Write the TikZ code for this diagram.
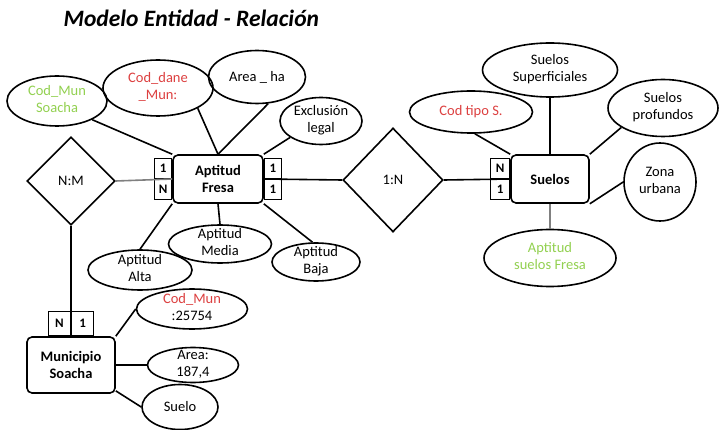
\documentclass[tikz,border=0pt]{standalone}
\usepackage{fontspec}
\setmainfont{Carlito}
\usetikzlibrary{shapes,positioning,calc}
\definecolor{keyred}{RGB}{220,64,64}
\definecolor{keygreen}{RGB}{146,208,80}
\newcommand{\twolines}[2]{\smash{\raisebox{-.25em}{\begin{tabular}{@{}c@{}}#1\\#2\end{tabular}}}}

\begin{document}
\begin{tikzpicture}
[x=1pt,y=-1pt,
font=\fontsize{14.5}{17}\selectfont,
%
entity/.style={shape=rectangle,rounded corners=5pt,draw=black,line width=1.6pt,fill=white,
  align=center,inner sep=0pt,font=\fontsize{14.5}{17}\selectfont\bfseries},
attr/.style={shape=ellipse,draw=black,line width=1.6pt,inner sep=0pt},
keyattr/.style={attr,text=keyred},
derattr/.style={attr,text=keygreen},
rel/.style={shape=diamond,draw=black,line width=1.6pt,inner sep=0pt,minimum width=88pt,minimum height=88pt},
card/.style={shape=rectangle,draw=black,line width=1.3pt,fill=white,inner sep=0pt,
  minimum width=17pt,minimum height=20pt,font=\fontsize{13}{13}\selectfont\bfseries},
%
edge/.style={draw,line width=1.6pt},
gedge/.style={edge,draw=gray}]
%
\useasboundingbox (0,0) rectangle (725,430);
\node (title) [anchor=west,font=\fontsize{23.5}{28}\selectfont\bfseries\itshape] at (60,18) {Modelo Entidad - Relación};
%
%% entities
\node (fresa) [entity,minimum width=90pt,minimum height=48pt] at (218,179) {Aptitud\\Fresa};
\node (suelos) [entity,minimum width=78pt,minimum height=48pt] at (550,179) {Suelos};
\node (muni) [entity,minimum width=88pt,minimum height=56pt] at (71,365) {Municipio\\Soacha};
%
%% relations
\node (nm) [rel] at (71,181) {N:M};
\node (unon) [rel,minimum width=100pt,minimum height=104pt] at (393,180) {1:N};
%
%% cardinalities
\node (fl1) [card,above left=0pt and 0pt of fresa.west] {1};
\node (flN) [card,below left=0pt and 0pt of fresa.west] {N};
\node (fr1) [card,above right=0pt and 0pt of fresa.east] {1};
\node (fr2) [card,below right=0pt and 0pt of fresa.east] {1};
\node (sN) [card,minimum width=19pt,above left=0pt and 0pt of suelos.west] {N};
\node (s1) [card,minimum width=19pt,below left=0pt and 0pt of suelos.west] {1};
\node (mN) [card,minimum width=22pt,minimum height=24pt,above left=0pt and 0pt of muni.north] {N};
\node (m1) [card,minimum width=22pt,minimum height=24pt,above right=0pt and 0pt of muni.north] {1};
%
%% attributes of Aptitud Fresa
\node (codmun) [derattr,minimum width=100pt,minimum height=50pt] at (57,101) {\twolines{Cod\_Mun}{Soacha}};
\node (coddane) [keyattr,minimum width=110pt,minimum height=56pt] at (158,88) {\twolines{Cod\_dane}{\_Mun:}};
\node (area) [attr,minimum width=97pt,minimum height=53pt] at (257,77) {Area \_ ha};
\node (excl) [attr,minimum width=82pt,minimum height=47pt] at (321,121) {\twolines{Exclusión}{legal}};
\node (alta) [attr,minimum width=104pt,minimum height=40pt] at (140,270) {\twolines{Aptitud}{Alta}};
\node (media) [attr,minimum width=103pt,minimum height=38pt] at (220,244) {\twolines{Aptitud}{Media}};
\node (baja) [attr,minimum width=88pt,minimum height=38pt] at (316,262) {\twolines{Aptitud}{Baja}};
%
%% attributes of Suelos
\node (codtipo) [keyattr,minimum width=123pt,minimum height=42pt] at (471,112) {Cod tipo S.};
\node (supf) [attr,minimum width=135pt,minimum height=54pt] at (550,70) {\twolines{Suelos}{Superficiales}};
\node (prof) [attr,minimum width=110pt,minimum height=57pt] at (663,108) {\twolines{Suelos}{profundos}};
\node (zona) [attr,minimum width=72pt,minimum height=78pt] at (660,182) {\twolines{Zona}{urbana}};
\node (aptsf) [derattr,minimum width=132pt,minimum height=57pt] at (550,258) {\twolines{Aptitud}{suelos Fresa}};
%
%% attributes of Municipio
\node (codmun2) [attr,minimum width=111pt,minimum height=40pt] at (192,309) {\twolines{\textcolor{keyred}{Cod\_Mun}}{:25754}};
\node (areamun) [attr,minimum width=91pt,minimum height=35pt] at (193,365) {\twolines{Area:}{187,4}};
\node (suelo) [attr,minimum width=76pt,minimum height=45pt] at (180,407) {Suelo};
%
%% edges between entities and relations
\draw[gedge] (nm.east) -- (fresa.west);
\draw[edge] (fresa.east) -- (unon.west);
\draw[edge] (unon.east) -- (suelos.west);
\draw[edge] (nm.south) -- (muni.north);
%%
%% edges to attributes
\foreach \a/\b in {codmun.-28/fresa.north west, coddane.-27/fresa.north, area.-67/fresa.north,
  excl.-152/fresa.north east, alta.north/fresa.south west, media.north/fresa.south, baja.100/fresa.south east}
\draw[edge] (\a) -- (\b);
%%
\foreach \a/\b in {codtipo.-80/suelos.north west, supf.south/suelos.north,
  prof.-155/suelos.north east, zona.west/suelos.south east}
\draw[edge] (\a) -- (\b);
\draw[gedge] (suelos.south) -- (aptsf.north);
%%
\draw[edge] (muni.north east) -- (codmun2.west);
\draw[edge] (muni.east) -- (areamun.west);
\draw[edge] (muni.-30) -- (suelo.west);
\end{tikzpicture}
\end{document}
